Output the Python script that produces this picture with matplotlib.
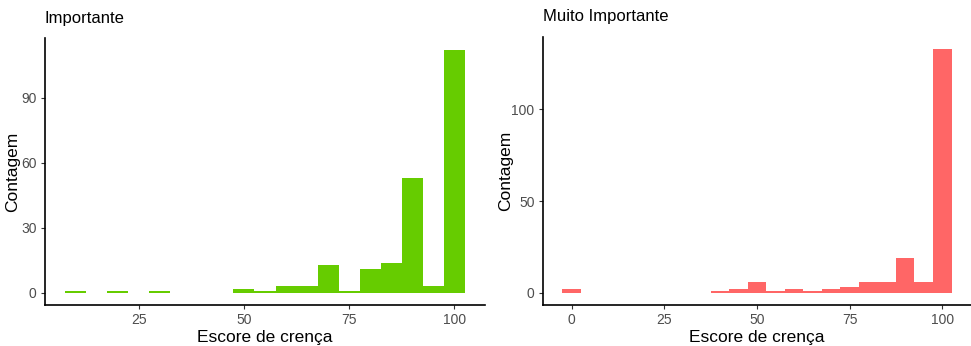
import matplotlib
matplotlib.use('Agg')
import matplotlib.pyplot as plt

plt.rcParams['font.family'] = ['Liberation Sans', 'DejaVu Sans']

# histogram bins (binwidth 5), centres and counts
imp_centers = [10, 20, 30, 50, 55, 60, 65, 70, 75, 80, 85, 90, 95, 100]
imp_counts = [1, 1, 1, 2, 1, 3, 3, 13, 1, 11, 14, 53, 3, 112]

muito_centers = [0, 40, 45, 50, 55, 60, 65, 70, 75, 80, 85, 90, 95, 100]
muito_counts = [2, 1, 2, 6, 1, 2, 1, 2, 3, 6, 6, 19, 6, 133]

imp_xticks = [25, 50, 75, 100]
imp_yticks = [0, 30, 60, 90]
muito_xticks = [0, 25, 50, 75, 100]
muito_yticks = [0, 50, 100]


def panel(ax, centers, counts, color, title, xticks, yticks, ylab_x):
    ax.bar(centers, counts, width=5, color=color, linewidth=0)
    lo = min(centers) - 2.5
    hi = max(centers) + 2.5
    pad = (hi - lo) * 0.05
    ax.set_xlim(lo - pad, hi + pad)
    top = max(counts)
    ax.set_ylim(-top * 0.05, top * 1.05)
    ax.set_xticks(xticks)
    ax.set_yticks(yticks)
    for s in ['top', 'right']:
        ax.spines[s].set_visible(False)
    for s in ['left', 'bottom']:
        ax.spines[s].set_linewidth(1.2)
        ax.spines[s].set_color('black')
    ax.tick_params(length=3, width=0.8, color='#333333', labelcolor='#4d4d4d',
                   labelsize=10, pad=3)
    ax.set_xlabel('Escore de crença', fontsize=12.5)
    ax.set_ylabel('Contagem', fontsize=12.5)
    ax.xaxis.set_label_coords(0.5, -0.092)
    ax.yaxis.set_label_coords(ylab_x, 0.5)
    ax.set_title(title, loc='left', fontsize=12, pad=11)


fig = plt.figure(figsize=(9.71, 3.46), dpi=100)
ax1 = fig.add_axes([0.0463, 0.1185, 0.4532, 0.7715])
ax2 = fig.add_axes([0.559, 0.1185, 0.441, 0.7755])

panel(ax1, imp_centers, imp_counts, '#66cc00', 'Importante', imp_xticks, imp_yticks, -0.057)
panel(ax2, muito_centers, muito_counts, '#ff6666', 'Muito Importante', muito_xticks, muito_yticks, -0.07)

fig.savefig('out.png', dpi=100)
